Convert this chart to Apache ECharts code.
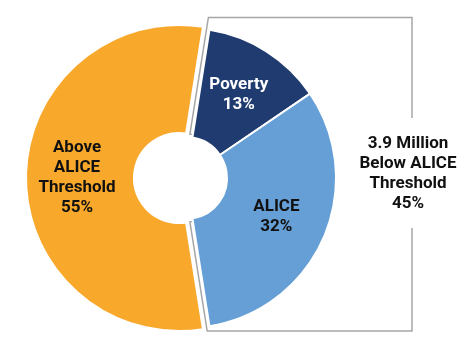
<!DOCTYPE html>
<html>
<head>
<meta charset="utf-8">
<script src="https://cdn.jsdelivr.net/npm/echarts@6/dist/echarts.min.js"></script>
<style>
  html, body { margin: 0; padding: 0; background: #fff; }
  #chart { width: 474px; height: 353px; }
</style>
</head>
<body>
<div id="chart"></div>
<script>
// 数据
var categories = ['Poverty', 'ALICE', 'Above\nALICE\nThreshold'];
var values = [13, 32, 55];
var colors = ['#1F3B6F', '#659FD5', '#F8A82B'];
var labelColors = ['#ffffff', '#111111', '#111111'];
var belowLines = ['3.9 Million', 'Below ALICE', 'Threshold'];

// 版式
var font = "Roboto, 'Noto Sans', sans-serif";
var cy = 178;
var leftC = 179, leftR = [45, 153];    // 橙色部分
var rightC = 186, rightR = [41, 150];  // 拉出的两块
var startAngle = 81;

var chart = echarts.init(document.getElementById('chart'), null, { renderer: 'canvas' });

function pieData(showIdx) {
  return values.map(function (v, i) {
    var show = showIdx.indexOf(i) >= 0;
    return {
      name: categories[i],
      value: v,
      itemStyle: show
        ? { color: colors[i], borderColor: '#fff', borderWidth: 2 }
        : { color: 'rgba(0,0,0,0)', borderWidth: 0 },
      label: show
        ? { show: true, color: labelColors[i] }
        : { show: false }
    };
  });
}

// 括号线 (跟着右边两块的左边缘)
function bracketPoints() {
  var a = startAngle * Math.PI / 180;
  var g = 3;
  var topY = 17.5, botY = 331, rx = 412;
  var pts = [[rx, 118], [rx, topY]];
  var tTop = (cy - topY - g * Math.cos(a)) / Math.sin(a);
  pts.push([rightC + tTop * Math.cos(a) - g * Math.sin(a), cy - tTop * Math.sin(a) - g * Math.cos(a)]);
  var rho = rightR[0] + g;
  var d = Math.asin(g / rho);
  for (var k = 0; k <= 40; k++) {
    var th = (a + d) - k * 2 * (a + d) / 40;
    pts.push([rightC + rho * Math.cos(th), cy - rho * Math.sin(th)]);
  }
  var tBot = (botY - cy - g * Math.cos(a)) / Math.sin(a);
  pts.push([rightC + tBot * Math.cos(a) - g * Math.sin(a), cy + tBot * Math.sin(a) + g * Math.cos(a)]);
  pts.push([rx, botY]);
  pts.push([rx, 228]);
  return pts;
}

var labelCommon = {
  position: 'inside',
  fontFamily: font,
  fontWeight: 'bold',
  fontSize: 17,
  lineHeight: 20,
  formatter: function (p) { return p.name + '\n' + p.value + '%'; }
};

var option = {
  animation: false,
  graphic: [
    {
      type: 'polyline',
      silent: true,
      shape: { points: bracketPoints() },
      style: { stroke: '#A6A6A6', lineWidth: 1.5, fill: null }
    },
    {
      type: 'text',
      silent: true,
      style: {
        text: belowLines.join('\n') + '\n' + (values[0] + values[1]) + '%',
        x: 408,
        y: 174,
        align: 'center',
        verticalAlign: 'middle',
        fill: '#111',
        fontFamily: font,
        fontWeight: 'bold',
        fontSize: 17,
        lineHeight: 20
      }
    }
  ],
  series: [
    {
      type: 'pie',
      silent: true,
      center: [leftC, cy],
      radius: leftR,
      startAngle: startAngle,
      clockwise: true,
      label: labelCommon,
      labelLine: { show: false },
      data: pieData([2])
    },
    {
      type: 'pie',
      silent: true,
      center: [rightC, cy],
      radius: rightR,
      startAngle: startAngle,
      clockwise: true,
      label: labelCommon,
      labelLine: { show: false },
      data: pieData([0, 1])
    }
  ]
};

chart.setOption(option);
</script>
</body>
</html>
